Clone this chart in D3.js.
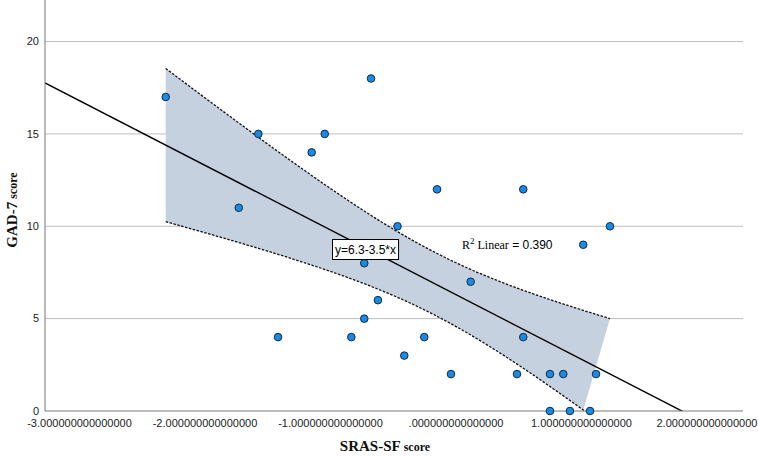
<!DOCTYPE html>
<html>
<head>
<meta charset="utf-8">
<script src="https://cdn.jsdelivr.net/npm/d3@7/dist/d3.min.js"></script>
<style>
  html, body { margin: 0; padding: 0; background: #fff; }
  svg { display: block; }
</style>
</head>
<body>
<div id="chart"></div>
<script>
// SRAS-SF score (x) vs GAD-7 score (y), one entry per respondent
var sras = [-2.313, -1.731, -1.575, -1.418, -1.150, -1.046, -0.677, -0.834, -0.731, -0.731,
            -0.622, -0.466, -0.412, -0.253, -0.151, -0.040, 0.117, 0.486, 0.536, 0.536,
            0.749, 0.749, 0.855, 0.908, 1.014, 1.068, 1.116, 1.227];
var gad7 = [17, 11, 15, 4, 14, 15, 18, 4, 8, 5,
            6, 10, 3, 4, 12, 2, 7, 2, 12, 4,
            2, 0, 2, 0, 9, 0, 2, 10];

// fit line as reported on the chart
var fitIntercept = 6.3;
var fitSlope = -3.5;
var fitR2 = 0.390;
var tCrit = 2.056; // t(0.975, df = 26)

var xTicks = [-3, -2, -1, 0, 1, 2];
var xTickLabels = ["-3.000000000000000", "-2.000000000000000", "-1.000000000000000",
                   ".000000000000000", "1.000000000000000", "2.000000000000000"];
var yTicks = [0, 5, 10, 15, 20];

function drawScatter() {
    var W = 758, H = 456;
    var plot = {left: 45, right: 743, top: 0, bottom: 411};

    var svg = d3.select("#chart").append("svg")
        .attr("width", W)
        .attr("height", H)
        .style("background", "#fff");

    var x = d3.scaleLinear().domain([-3.275, 2.287]).range([plot.left, plot.right]);
    var y = d3.scaleLinear().domain([0, 22.25]).range([plot.bottom, plot.top]);

    svg.append("defs").append("clipPath").attr("id", "plotClip")
        .append("rect")
        .attr("x", plot.left).attr("y", plot.top)
        .attr("width", plot.right - plot.left).attr("height", plot.bottom - plot.top);

    // gridlines
    svg.append("g").selectAll("line")
        .data(yTicks.filter(function(d) { return d > 0; }))
        .enter().append("line")
        .attr("x1", plot.left).attr("x2", plot.right)
        .attr("y1", function(d) { return y(d); })
        .attr("y2", function(d) { return y(d); })
        .attr("stroke", "#bdbdbd")
        .attr("stroke-width", 1);

    // confidence band for the mean
    var pts = sras.map(function(d, i) { return {x: d, y: gad7[i]}; });
    var n = pts.length;
    var xMean = d3.mean(sras), yMean = d3.mean(gad7);
    var sxx = d3.sum(sras, function(d) { return (d - xMean) * (d - xMean); });
    var syy = d3.sum(gad7, function(d) { return (d - yMean) * (d - yMean); });
    var s = Math.sqrt(syy * (1 - fitR2) / (n - 2));

    var xMin = d3.min(sras), xMax = d3.max(sras);
    var band = d3.range(0, 101).map(function(i) {
        var xv = xMin + (xMax - xMin) * i / 100;
        var fit = fitIntercept + fitSlope * xv;
        var half = tCrit * s * Math.sqrt(1 / n + (xv - xMean) * (xv - xMean) / sxx);
        return {x: xv, lo: fit - half, hi: fit + half};
    });
    var lower = band.filter(function(d) { return d.lo >= 0; });

    var poly = band.map(function(d) { return [x(d.x), y(d.hi)]; })
        .concat(lower.slice().reverse().map(function(d) { return [x(d.x), y(d.lo)]; }));

    var gClip = svg.append("g").attr("clip-path", "url(#plotClip)");

    gClip.append("path")
        .attr("d", "M" + poly.join("L") + "Z")
        .attr("fill", "#c6d1e0")
        .attr("stroke", "none");

    var lineHi = d3.line().x(function(d) { return x(d.x); }).y(function(d) { return y(d.hi); });
    var lineLo = d3.line().x(function(d) { return x(d.x); }).y(function(d) { return y(d.lo); });

    gClip.append("path").attr("d", lineHi(band))
        .attr("fill", "none").attr("stroke", "#111").attr("stroke-width", 1.3)
        .attr("stroke-dasharray", "2.5,1.5");
    gClip.append("path").attr("d", lineLo(band))
        .attr("fill", "none").attr("stroke", "#111").attr("stroke-width", 1.3)
        .attr("stroke-dasharray", "2.5,1.5");

    // fit line
    var xd = x.domain();
    gClip.append("line")
        .attr("x1", x(xd[0])).attr("y1", y(fitIntercept + fitSlope * xd[0]))
        .attr("x2", x(xd[1])).attr("y2", y(fitIntercept + fitSlope * xd[1]))
        .attr("stroke", "#000").attr("stroke-width", 1.4);

    // axes
    svg.append("line")
        .attr("x1", plot.left).attr("x2", plot.left)
        .attr("y1", plot.top).attr("y2", plot.bottom)
        .attr("stroke", "#777").attr("stroke-width", 1);
    svg.append("line")
        .attr("x1", plot.left).attr("x2", plot.right)
        .attr("y1", plot.bottom).attr("y2", plot.bottom)
        .attr("stroke", "#777").attr("stroke-width", 1);

    // points
    svg.append("g").selectAll("circle")
        .data(pts)
        .enter().append("circle")
        .attr("cx", function(d) { return x(d.x); })
        .attr("cy", function(d) { return y(d.y); })
        .attr("r", 3.8)
        .attr("fill", "#1a8ae3")
        .attr("stroke", "#0d2c4a")
        .attr("stroke-width", 1);

    // tick labels
    svg.append("g").selectAll("text")
        .data(yTicks)
        .enter().append("text")
        .attr("x", 39)
        .attr("y", function(d) { return y(d); })
        .attr("dy", "0.35em")
        .attr("text-anchor", "end")
        .style("font-family", "'Liberation Sans', Arial, sans-serif")
        .style("font-size", "11px")
        .style("fill", "#222")
        .text(function(d) { return d; });

    svg.append("g").selectAll("text")
        .data(xTicks)
        .enter().append("text")
        .attr("x", function(d) { return x(d); })
        .attr("y", 427)
        .attr("text-anchor", "middle")
        .style("font-family", "'Liberation Sans', Arial, sans-serif")
        .style("font-size", "11px")
        .style("fill", "#222")
        .text(function(d, i) { return xTickLabels[i]; });

    // axis titles
    var serif = "'Liberation Serif', 'Times New Roman', serif";
    var xt = svg.append("text")
        .attr("x", 385).attr("y", 451)
        .attr("text-anchor", "middle")
        .style("font-family", serif)
        .style("font-weight", "bold")
        .style("fill", "#111");
    xt.append("tspan").style("font-size", "15px").text("SRAS-SF");
    xt.append("tspan").style("font-size", "12px").text(" score");

    var yt = svg.append("text")
        .attr("transform", "translate(17,210) rotate(-90)")
        .attr("text-anchor", "middle")
        .style("font-family", serif)
        .style("font-weight", "bold")
        .style("fill", "#111");
    yt.append("tspan").style("font-size", "15px").text("GAD-7");
    yt.append("tspan").style("font-size", "12px").text(" score");

    // equation label
    var eqG = svg.append("g");
    var eq = eqG.append("text")
        .attr("x", 335).attr("y", 254)
        .style("font-family", "'Liberation Sans', Arial, sans-serif")
        .style("font-size", "12px")
        .style("fill", "#000")
        .text("y=" + fitIntercept + "-" + Math.abs(fitSlope) + "*x");
    var bb = eq.node().getBBox();
    eqG.insert("rect", "text")
        .attr("x", bb.x - 2.5).attr("y", 239.5)
        .attr("width", bb.width + 5).attr("height", 20)
        .attr("fill", "#fff")
        .attr("stroke", "#000")
        .attr("stroke-width", 1);

    // R squared label
    var r2 = svg.append("text")
        .attr("x", 462).attr("y", 249)
        .style("font-size", "12px")
        .style("fill", "#000");
    r2.append("tspan").style("font-family", serif).text("R");
    r2.append("tspan").style("font-family", serif).style("font-size", "9px")
        .attr("dy", "-5").text("2");
    r2.append("tspan").style("font-family", serif).attr("dy", "5").text(" Linear");
    r2.append("tspan").style("font-family", "'Liberation Sans', Arial, sans-serif")
        .text(" = " + fitR2.toFixed(3));
}

drawScatter();
</script>
</body>
</html>
